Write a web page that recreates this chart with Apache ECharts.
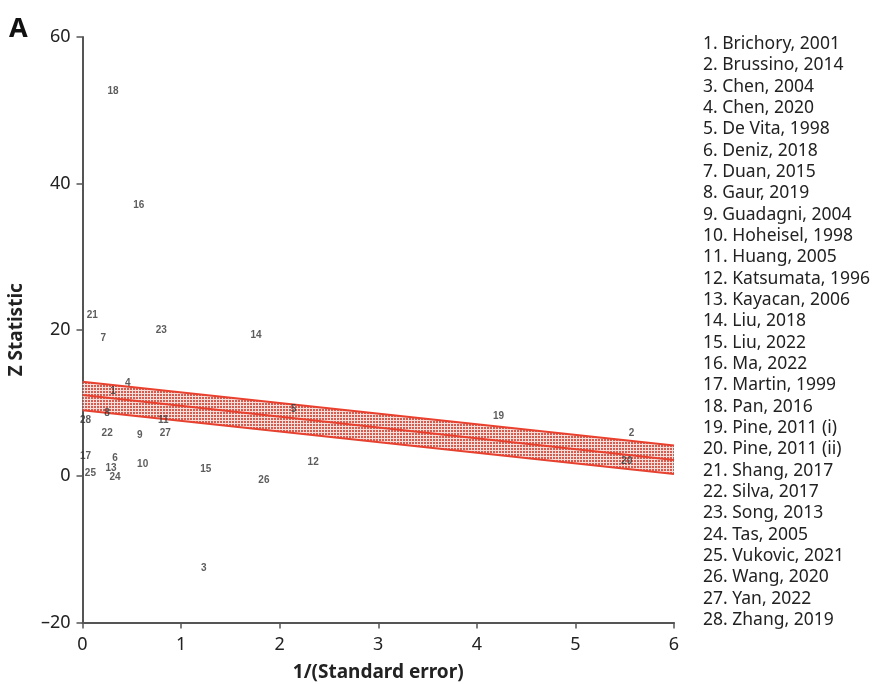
<!DOCTYPE html>
<html>
<head>
<meta charset="utf-8">
<title>Galbraith plot</title>
<script src="https://cdn.jsdelivr.net/npm/echarts@6/dist/echarts.min.js"></script>
<style>
  html, body { margin: 0; padding: 0; background: #fff; }
  #chart { width: 883px; height: 684px; }
</style>
</head>
<body>
<div id="chart"></div>
<script>
// study list (legend on the right)
const studies = [
  'Brichory, 2001', 'Brussino, 2014', 'Chen, 2004', 'Chen, 2020', 'De Vita, 1998',
  'Deniz, 2018', 'Duan, 2015', 'Gaur, 2019', 'Guadagni, 2004', 'Hoheisel, 1998',
  'Huang, 2005', 'Katsumata, 1996', 'Kayacan, 2006', 'Liu, 2018', 'Liu, 2022',
  'Ma, 2022', 'Martin, 1999', 'Pan, 2016', 'Pine, 2011 (i)', 'Pine, 2011 (ii)',
  'Shang, 2017', 'Silva, 2017', 'Song, 2013', 'Tas, 2005', 'Vukovic, 2021',
  'Wang, 2020', 'Yan, 2022', 'Zhang, 2019'
];

// study number, 1/SE, Z statistic
const studyIds = [18, 16, 21, 7, 23, 14, 4, 1, 8, 28, 11, 22, 9, 27, 17, 6, 10, 13, 25, 24, 15, 26, 3, 5, 12, 19, 2, 20];
const precision = [0.31, 0.57, 0.10, 0.21, 0.80, 1.76, 0.46, 0.31, 0.25, 0.03, 0.82, 0.25, 0.58, 0.84, 0.03, 0.33, 0.61, 0.29, 0.08, 0.33, 1.25, 1.84, 1.23, 2.14, 2.34, 4.22, 5.57, 5.52];
const zStat = [52.6, 37.0, 22.0, 18.8, 19.9, 19.3, 12.7, 11.6, 8.6, 7.7, 7.7, 5.9, 5.6, 5.8, 2.7, 2.5, 1.6, 1.1, 0.4, -0.1, 1.0, -0.5, -12.6, 9.2, 1.9, 8.2, 5.8, 2.1];

// regression line and its band, at x = 0 and x = 6
const lineX = [0, 6];
const lowerLine = [9.0, 0.3];
const centerLine = [11.1, 2.2];
const upperLine = [12.9, 4.2];

const xTicks = [0, 1, 2, 3, 4, 5, 6];
const yTicks = [-20, 0, 20, 40, 60];

const FONT = "'Noto Sans', 'Open Sans', sans-serif";
const RED = '#e8412f';
const AXIS = '#555';

// crosshatch fill for the band
const hatch = document.createElement('canvas');
hatch.width = 3;
hatch.height = 3;
const hctx = hatch.getContext('2d');
hctx.fillStyle = '#cf5d52';
hctx.fillRect(0, 0, 3, 3);
hctx.fillStyle = '#f7dcd8';
hctx.fillRect(0, 0, 3, 1);
hctx.fillRect(0, 0, 1, 3);

const chart = echarts.init(document.getElementById('chart'));

const legendTexts = studies.map((s, i) => ({
  type: 'text',
  left: 703,
  top: 47 + i * 21.33 - 12,
  style: { text: (i + 1) + '. ' + s, font: '17.5px ' + FONT, fill: '#222' }
}));

const lineSeries = (name, vals) => ({
  name: name,
  type: 'line',
  symbol: 'none',
  data: lineX.map((x, i) => [x, vals[i]]),
  lineStyle: { color: RED, width: 2 },
  z: 2
});

chart.setOption({
  animation: false,
  grid: { left: 82.5, right: 209, top: 37, bottom: 61.5, outerBoundsMode: 'none', containLabel: false },
  xAxis: {
    type: 'value',
    min: xTicks[0],
    max: xTicks[xTicks.length - 1],
    interval: 1,
    name: '1/(Standard error)',
    nameLocation: 'middle',
    nameGap: 41,
    nameTextStyle: { fontFamily: FONT, fontSize: 19, fontWeight: 'bold', color: '#222' },
    axisLine: { onZero: false, lineStyle: { color: AXIS, width: 2 } },
    axisTick: { length: 6, lineStyle: { color: AXIS, width: 1.5 } },
    axisLabel: { fontFamily: FONT, fontSize: 18, color: '#222', margin: 13 },
    splitLine: { show: false }
  },
  yAxis: {
    type: 'value',
    min: yTicks[0],
    max: yTicks[yTicks.length - 1],
    interval: 20,
    name: 'Z Statistic',
    nameLocation: 'middle',
    nameGap: 56,
    nameTextStyle: { fontFamily: FONT, fontSize: 19, fontWeight: 'bold', color: '#222' },
    axisLine: { show: true, onZero: false, lineStyle: { color: AXIS, width: 2 } },
    axisTick: { show: true, length: 6, lineStyle: { color: AXIS, width: 1.5 } },
    axisLabel: {
      fontFamily: FONT, fontSize: 18, color: '#222', margin: 12,
      formatter: v => String(v).replace('-', '\u2013')
    },
    splitLine: { show: false }
  },
  graphic: [
    { type: 'text', left: 9, top: 16, style: { text: 'A', font: 'bold 27px ' + FONT, fill: '#111' } }
  ].concat(legendTexts),
  series: [
    {
      name: 'band',
      type: 'custom',
      data: lineX.map((x, i) => [x, lowerLine[i], upperLine[i]]),
      renderItem: (params, api) => {
        if (params.dataIndex !== 0) return null;
        const pts = [];
        for (let i = 0; i < lineX.length; i++) pts.push(api.coord([api.value(0, i), api.value(2, i)]));
        for (let i = lineX.length - 1; i >= 0; i--) pts.push(api.coord([api.value(0, i), api.value(1, i)]));
        return {
          type: 'polygon',
          shape: { points: pts },
          style: { fill: { image: hatch, repeat: 'repeat' } }
        };
      },
      z: 1
    },
    lineSeries('lower', lowerLine),
    lineSeries('upper', upperLine),
    lineSeries('center', centerLine),
    {
      name: 'studies',
      type: 'scatter',
      symbolSize: 1,
      itemStyle: { color: 'rgba(0,0,0,0)' },
      data: studyIds.map((id, i) => [precision[i], zStat[i], id]),
      label: {
        show: true,
        position: 'inside',
        formatter: p => p.value[2],
        fontFamily: 'Liberation Sans, Arial, sans-serif',
        fontSize: 10,
        fontWeight: 'bold',
        color: '#333'
      },
      z: 3
    }
  ]
});
</script>
</body>
</html>
